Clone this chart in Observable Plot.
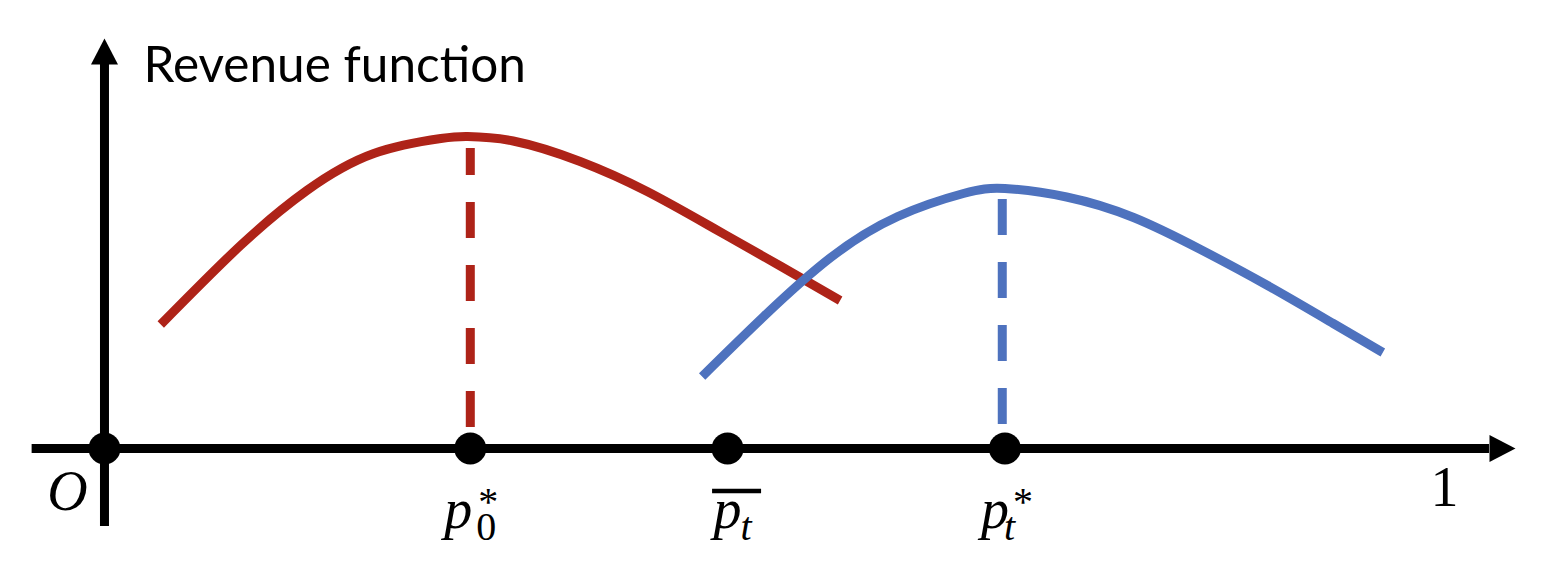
<!DOCTYPE html>
<html>
<head>
<meta charset="utf-8">
<script src="https://cdn.jsdelivr.net/npm/d3@7"></script>
<script src="https://cdn.jsdelivr.net/npm/@observablehq/plot@0.6"></script>
<style>
  html, body { margin: 0; padding: 0; background: #ffffff; }
  #chart svg { display: block; }
</style>
</head>
<body>
<div id="chart"></div>
<script>
// ---------------- data ----------------
// Revenue curve at t = 0 (red)
const redPrice   = [0.042, 0.1015, 0.151, 0.201, 0.251, 0.271, 0.305, 0.355, 0.405, 0.455, 0.505, 0.549];
const redRevenue = [1.24, 2.03, 2.58, 2.95, 3.10, 3.12, 3.075, 2.87, 2.57, 2.20, 1.82, 1.48];
// Revenue curve at t (blue)
const bluePrice   = [0.446, 0.492, 0.542, 0.592, 0.641, 0.672, 0.718, 0.768, 0.818, 0.868, 0.917, 0.954];
const blueRevenue = [0.72, 1.32, 1.91, 2.32, 2.55, 2.60, 2.515, 2.31, 1.99, 1.63, 1.25, 0.96];

// Marked prices on the horizontal axis: origin, p0*, p̄t, pt*
const markerPrice = [0, 0.273, 0.465, 0.672];
// Optimal prices and their revenues (dashed drop lines)
const optimumPrice   = [0.273, 0.670];
const optimumRevenue = [3.00, 2.49];
const dashBase       = [0.21, 0.24];

// Text
const yAxisTitle  = "Revenue function";
const originLabel = "O";
const endLabel    = "1";
const endValue    = 1;
const labelMain   = ["p", "p", "p"];
const labelSub    = ["0", "t", "t"];
const labelSup    = ["*", "", "*"];

// ---------------- styling ----------------
const RED = "#AE2318";
const BLUE = "#4E72BE";
const MATH = "'Liberation Serif', 'DejaVu Serif', serif";

const redData  = redPrice.map((p, i) => ({p, r: redRevenue[i]}));
const blueData = bluePrice.map((p, i) => ({p, r: blueRevenue[i]}));
const dots     = markerPrice.map(p => ({p, r: 0}));

// filled arrow head (origin = base centre, pointing +x)
const arrowHead = {draw(ctx) { ctx.moveTo(0, -13.5); ctx.lineTo(26, 0); ctx.lineTo(0, 13.5); ctx.closePath(); }};
const overBar   = {draw(ctx) { ctx.rect(-24.5, -2.2, 49, 4.4); }};

// axis extents
const xAxisStart = -0.054, xAxisEnd = 1.0336;
const yAxisStart = -0.78,  yAxisEnd = 3.84;

// per-label glyph offsets (pixels, relative to the marker)
const layout = [
  {pdx: -26, subdx: 6,  supdx: 8},
  {pdx: -14, subdx: 13, supdx: 0, bar: 9},
  {pdx: -24, subdx: -1, supdx: 8}
];

const marks = [
  // curves
  Plot.line(redData,  {x: "p", y: "r", stroke: RED,  strokeWidth: 9, curve: "natural", strokeLinecap: "butt"}),
  Plot.line(blueData, {x: "p", y: "r", stroke: BLUE, strokeWidth: 9, curve: "natural", strokeLinecap: "butt"}),
  // dashed drop lines (drawn from the axis upward)
  Plot.ruleX([{x: optimumPrice[0], b: dashBase[0], t: optimumRevenue[0]}], {x: "x", y1: "b", y2: "t", stroke: RED,  strokeWidth: 9, strokeDasharray: "36,27"}),
  Plot.ruleX([{x: optimumPrice[1], b: dashBase[1], t: optimumRevenue[1]}], {x: "x", y1: "b", y2: "t", stroke: BLUE, strokeWidth: 9, strokeDasharray: "36,27"}),
  // axes
  Plot.ruleY([0], {x1: xAxisStart, x2: xAxisEnd, stroke: "black", strokeWidth: 9}),
  Plot.ruleX([0], {y1: yAxisStart, y2: yAxisEnd, stroke: "black", strokeWidth: 9}),
  Plot.dot([{x: xAxisEnd, y: 0}], {x: "x", y: "y", symbol: arrowHead, fill: "black", r: 10}),
  Plot.dot([{x: 0, y: yAxisEnd}], {x: "x", y: "y", symbol: arrowHead, fill: "black", r: 10, rotate: -90}),
  // marker dots
  Plot.dot(dots, {x: "p", y: "r", r: 16, fill: "black"}),
  // axis title
  Plot.text([yAxisTitle], {frameAnchor: "top-left", text: d => d, dx: 143, dy: 81, lineAnchor: "bottom", textAnchor: "start",
    fontFamily: "Lato, 'Open Sans', sans-serif", fontSize: 49.5, fill: "black"}),
  // origin & end labels
  Plot.text([originLabel], {x: () => 0, y: () => 0, text: d => d, dx: -37, dy: 61, lineAnchor: "bottom", textAnchor: "middle",
    fontFamily: MATH, fontStyle: "italic", fontSize: 56, fill: "black"}),
  Plot.text([endLabel], {x: () => endValue, y: () => 0, text: d => d, dx: 0, dy: 57, lineAnchor: "bottom", textAnchor: "middle",
    fontFamily: MATH, fontSize: 56, fill: "black"})
];

// price labels under the markers
layout.forEach((L, i) => {
  const x = markerPrice[i + 1];
  marks.push(Plot.text([labelMain[i]], {x: () => x, y: () => 0, text: d => d, dx: L.pdx, dy: 79, lineAnchor: "bottom", textAnchor: "start",
    fontFamily: MATH, fontStyle: "italic", fontSize: 56, fill: "black"}));
  marks.push(Plot.text([labelSub[i]], {x: () => x, y: () => 0, text: d => d, dx: L.subdx, dy: 91, lineAnchor: "bottom", textAnchor: "start",
    fontFamily: MATH, fontStyle: labelSub[i] === "t" ? "italic" : "normal", fontSize: 40, fill: "black"}));
  if (labelSup[i]) marks.push(Plot.text([labelSup[i]], {x: () => x, y: () => 0, text: d => d, dx: L.supdx, dy: 66, lineAnchor: "bottom", textAnchor: "start",
    fontFamily: MATH, fontSize: 40, fill: "black"}));
  if (L.bar !== undefined) marks.push(Plot.dot([x], {x: d => d, y: () => 0, symbol: overBar, fill: "black", r: 10, dx: L.bar, dy: 42.5}));
});

const chart = Plot.plot({
  width: 1560,
  height: 574,
  margin: 0,
  style: {background: "#ffffff", overflow: "visible"},
  x: {domain: [-0.0776, 1.0866], axis: null},
  y: {domain: [-1.26, 4.48], axis: null},
  marks
});
document.getElementById("chart").appendChild(chart);
</script>
</body>
</html>
